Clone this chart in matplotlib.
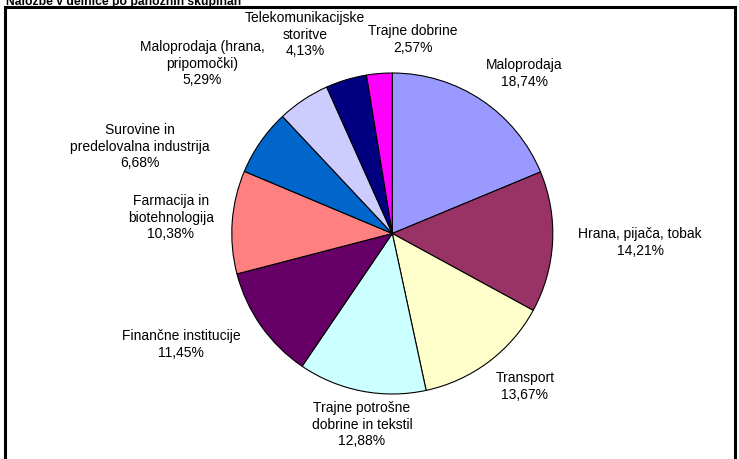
import matplotlib
matplotlib.use("Agg")
import matplotlib.pyplot as plt
from matplotlib.patches import Rectangle

plt.rcParams['font.family'] = ['Liberation Sans', 'DejaVu Sans']

# ---- data ----
categories = [
    "Maloprodaja",
    "Hrana, pijača, tobak",
    "Transport",
    "Trajne potrošne\ndobrine in tekstil",
    "Finančne institucije",
    "Farmacija in\nbiotehnologija",
    "Surovine in\npredelovalna industrija",
    "Maloprodaja (hrana,\npripomočki)",
    "Telekomunikacijske\nstoritve",
    "Trajne dobrine",
]
values = [18.74, 14.21, 13.67, 12.88, 11.45, 10.38, 6.68, 5.29, 4.13, 2.57]
colors = ["#9999FF", "#993366", "#FFFFCC", "#CCFFFF", "#660066",
          "#FF8080", "#0066CC", "#CCCCFF", "#000080", "#FF00FF"]
title = "Naložbe v delnice po panožnih skupinah"

# label centre positions in pixels (x from left, y of first line centre from top)
label_pos = [
    (524, 64), (640, 233), (525, 377), (362, 407), (181, 335),
    (171, 200), (140, 129), (202, 46), (305, 17), (413, 30),
]

W, H = 739, 459
fig = plt.figure(figsize=(W / 100, H / 100), dpi=100)
ax = fig.add_axes([0, 0, 1, 1])
ax.set_xlim(0, W)
ax.set_ylim(0, H)
ax.set_aspect('equal')
ax.axis('off')

cx, cy, r = 392.3, H - 233.5, 160.5
ax.pie(values, colors=colors, startangle=90, counterclock=False,
       center=(cx, cy), radius=r,
       wedgeprops=dict(edgecolor='black', linewidth=0.8))
ax.set_xlim(0, W)
ax.set_ylim(0, H)

def fmt(v):
    return f"{v:.2f}".replace('.', ',') + "%"

for cat, v, (px, py) in zip(categories, values, label_pos):
    txt = cat + "\n" + fmt(v)
    ax.text(px, H - py + 6, txt, ha='center', va='top',
            fontsize=10, linespacing=1.24, color='black')

# border box
ax.add_patch(Rectangle((4.5, -20), 730, H - 7 + 20, fill=False,
                       edgecolor='black', linewidth=2.2, clip_on=False))

# title (top clipped as in reference)
ax.text(6, H - 4.5, title, ha='left', va='baseline', fontsize=8.7,
        fontweight='bold', color='black', clip_on=False)

fig.savefig("out.png", dpi=100)
